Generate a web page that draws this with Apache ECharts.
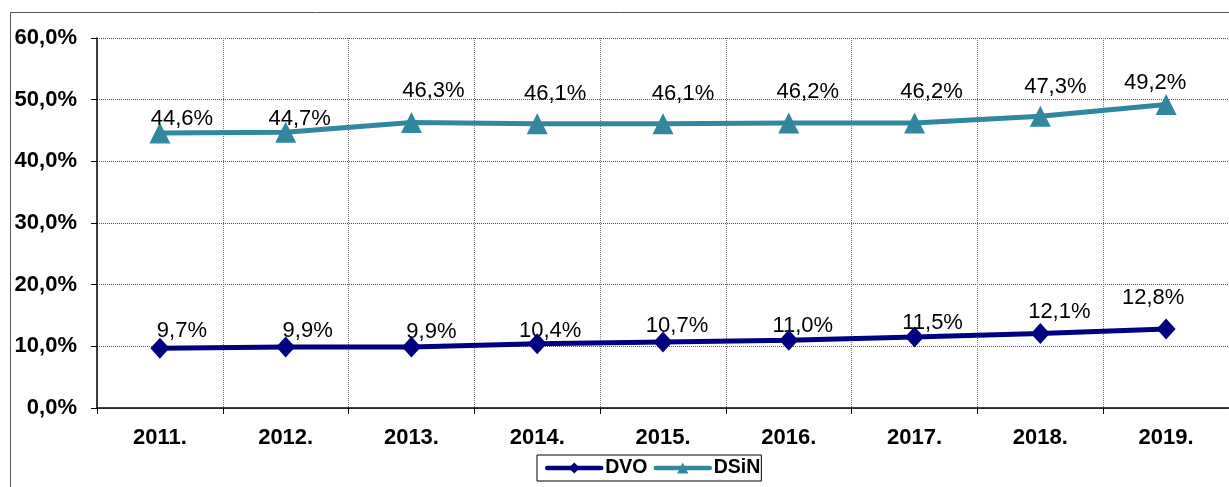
<!DOCTYPE html>
<html><head><meta charset="utf-8">
<script src="https://cdn.jsdelivr.net/npm/echarts@6/dist/echarts.min.js"></script>
<style>html,body{margin:0;padding:0;background:#fff}#c{width:1229px;height:487px}</style>
</head><body><div id="c"></div>
<script>
const categories = ['2011.','2012.','2013.','2014.','2015.','2016.','2017.','2018.','2019.'];
const dvo = [9.7, 9.9, 9.9, 10.4, 10.7, 11.0, 11.5, 12.1, 12.8];
const dsin = [44.6, 44.7, 46.3, 46.1, 46.1, 46.2, 46.2, 47.3, 49.2];
// label placement (style only): offsets of label centre from the marker, px
const dvoLabelOffset = [[22,-17],[22,-16],[20,-15],[13,-13],[14,-16],[14,-14],[18,-14],[19,-21],[-13,-31]];
const dsinLabelOffset = [[22,-14],[14,-13],[22,-32],[18,-30],[20,-30],[19,-31],[17,-31],[15,-29],[-11,-22]];

const fmt = v => v.toFixed(1).replace('.', ',') + '%';
const FONT = 'Arial, "Liberation Sans", sans-serif';
const lblBase = {show:true, position:'inside', align:'center', verticalAlign:'middle', color:'#000', fontFamily:FONT, fontSize:22, formatter:p=>fmt(p.value)};
const mk = (vals, offs) => vals.map((v,i)=>({value:v, label:Object.assign({}, lblBase, {offset:offs[i]})}));

const chart = echarts.init(document.getElementById('c'), null, {renderer:'canvas'});
chart.setOption({
  animation:false,
  graphic:[{type:'rect', shape:{x:10.5,y:12.5,width:1240,height:500}, style:{fill:'none', stroke:'#555', lineWidth:1}, silent:true, z:-1}],
  grid:{left:97, right:-11, top:38, bottom:79, containLabel:false},
  legend:{
    top:455, left:537, itemWidth:54, itemHeight:14, itemGap:6,
    borderColor:'#000', borderWidth:1, padding:[3,1,3,8], borderRadius:0,
    lineStyle:{width:4.5, cap:'round'},
    textStyle:{fontFamily:FONT, fontWeight:'bold', fontSize:19.5, color:'#000', padding:[0,0,0,-1]},
    data:['DVO','DSiN']
  },
  xAxis:{type:'category', data:categories, boundaryGap:true,
    axisLine:{lineStyle:{color:'#000', width:1.5}},
    axisTick:{show:true, length:6, lineStyle:{color:'#000'}},
    splitLine:{show:true, lineStyle:{color:'#777', type:'dotted', width:1}},
    axisLabel:{color:'#000', fontFamily:FONT, fontWeight:'bold', fontSize:22, margin:19}
  },
  yAxis:{type:'value', min:0, max:60, interval:10,
    axisLine:{show:true, lineStyle:{color:'#000', width:1.5}},
    axisTick:{show:true, length:6, lineStyle:{color:'#000'}},
    splitLine:{show:true, lineStyle:{color:'#555', type:'dotted', width:1}},
    axisLabel:{color:'#000', fontFamily:FONT, fontWeight:'bold', fontSize:22, margin:20, formatter:v=>fmt(v)}
  },
  series:[
    {name:'DVO', type:'line', data:mk(dvo, dvoLabelOffset), color:'#000080', symbol:'diamond', symbolSize:[19,21],
      lineStyle:{width:5, color:'#000080'}, itemStyle:{color:'#000080'}},
    {name:'DSiN', type:'line', data:mk(dsin, dsinLabelOffset), color:'#31879E', symbol:'triangle', symbolSize:[21,21],
      lineStyle:{width:5, color:'#31879E'}, itemStyle:{color:'#31879E'}}
  ]
});
</script></body></html>
